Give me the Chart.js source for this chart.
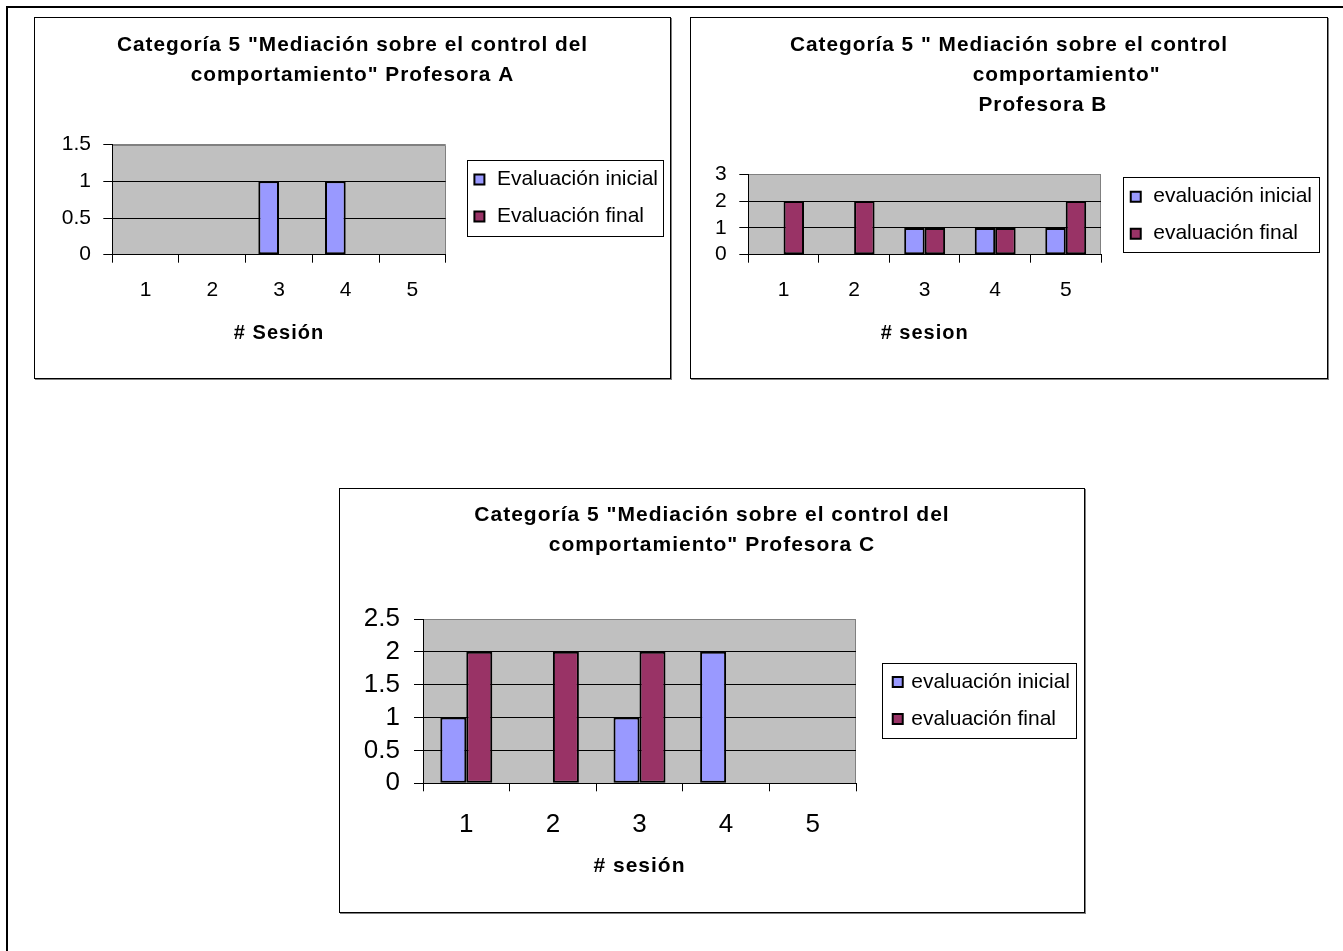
<!DOCTYPE html>
<html lang="es">
<head>
<meta charset="utf-8">
<title>Categoría 5 - Mediación sobre el control del comportamiento</title>
<script src="https://cdn.jsdelivr.net/npm/chart.js@4.4.1/dist/chart.umd.min.js"></script>
<style>
html,body{margin:0;padding:0;background:#fff;}
body{width:1343px;height:951px;position:relative;overflow:hidden;}
.frame-top{position:absolute;left:6px;top:6px;width:1337px;height:2px;background:#000;}
.frame-left{position:absolute;left:6px;top:6px;width:2px;height:945px;background:#000;}
.box{position:absolute;border:1px solid #000;box-shadow:1px 1px 0 #808080;background:#fff;}
.box canvas{display:block;}
#boxA{left:34px;top:17px;}
#boxB{left:690px;top:17px;}
#boxC{left:339px;top:488px;}
</style>
</head>
<body>
<div class="frame-top"></div>
<div class="frame-left"></div>
<div class="box" id="boxA"><canvas id="chartA" width="635" height="360"></canvas></div>
<div class="box" id="boxB"><canvas id="chartB" width="636" height="360"></canvas></div>
<div class="box" id="boxC"><canvas id="chartC" width="744" height="423"></canvas></div>
<script>
// ---------- data ----------
const sessions = ['1', '2', '3', '4', '5'];

const seriesA = ['Evaluación inicial', 'Evaluación final'];
const seriesB = ['evaluación inicial', 'evaluación final'];
const seriesC = ['evaluación inicial', 'evaluación final'];

const inicialA = [0, 0, 1, 1, 0];
const finalA   = [0, 0, 0, 0, 0];

const inicialB = [0, 0, 1, 1, 1];
const finalB   = [2, 2, 1, 1, 2];

const inicialC = [1, 0, 1, 2, 0];
const finalC   = [2, 2, 2, 0, 0];

const yTicksA = [0, 0.5, 1, 1.5];
const yTickLabelsA = ['0', '0.5', '1', '1.5'];
const yTicksB = [0, 1, 2, 3];
const yTickLabelsB = ['0', '1', '2', '3'];
const yTicksC = [0, 0.5, 1, 1.5, 2, 2.5];
const yTickLabelsC = ['0', '0.5', '1', '1.5', '2', '2.5'];

const titleA = ['Categoría 5 "Mediación sobre el control del', 'comportamiento" Profesora A'];
const titleB = ['Categoría 5 " Mediación sobre el control', 'comportamiento"', 'Profesora B'];
const titleC = ['Categoría 5 "Mediación sobre el control del', 'comportamiento" Profesora C'];

const xTitleA = '# Sesión';
const xTitleB = '# sesion';
const xTitleC = '# sesión';

// ---------- styling ----------
const INICIAL_COLOR = '#9999FF';
const FINAL_COLOR = '#993366';
const PLOT_BG = '#C0C0C0';
Chart.defaults.font.family = "'Liberation Sans', Arial, Helvetica, sans-serif";
Chart.defaults.color = '#000';

// Bold texts (titles) are drawn slightly letter-spaced, like the original rendering.
(function () {
  const P = CanvasRenderingContext2D.prototype;
  const origFill = P.fillText, origMeasure = P.measureText;
  const spacing = ctx => {
    if ('letterSpacing' in ctx) ctx.letterSpacing = /bold|[6-9]00/.test(ctx.font) ? '1px' : '0px';
  };
  P.fillText = function () { spacing(this); return origFill.apply(this, arguments); };
  P.measureText = function () { spacing(this); return origMeasure.apply(this, arguments); };
})();

const nb = n => '\u00A0'.repeat(n);
const LEGEND_FS = 21;

const decor = {
  id: 'decor',
  beforeDraw(chart) {
    const ctx = chart.ctx;
    const a = chart.chartArea;
    ctx.save();
    ctx.fillStyle = PLOT_BG;
    ctx.fillRect(a.left, a.top, a.right - a.left, a.bottom - a.top);
    ctx.strokeStyle = '#808080';
    ctx.lineWidth = 1;
    const t = Math.round(a.top) + 0.5, r = Math.round(a.right) - 0.5;
    ctx.beginPath();
    ctx.moveTo(a.left, t);
    ctx.lineTo(r, t);
    ctx.lineTo(r, a.bottom);
    ctx.stroke();
    ctx.restore();
  },
  afterDraw(chart, args, o) {
    const lg = chart.legend;
    if (!lg || !lg.legendHitBoxes || !lg.legendHitBoxes.length || !o.frame) return;
    const hb = lg.legendHitBoxes;
    const f = o.frame;
    const sq = hb[0].left + (o.boxW - 10) / 2;
    const textRight = Math.max(...hb.map(h => h.left + h.width));
    const c1 = hb[0].top + o.fs / 2;
    const c2 = hb[hb.length - 1].top + o.fs / 2;
    const x0 = Math.round(sq - f.l) + 0.5, x1 = Math.round(textRight + f.r) + 0.5;
    const y0 = Math.round(c1 - f.t) + 0.5, y1 = Math.round(c2 + f.b) + 0.5;
    const ctx = chart.ctx;
    ctx.save();
    ctx.strokeStyle = '#000';
    ctx.lineWidth = 1;
    ctx.strokeRect(x0, y0, x1 - x0, y1 - y0);
    ctx.restore();
  }
};

function buildChart(id, p) {
  const ymax = p.yTicks[p.yTicks.length - 1];
  return new Chart(document.getElementById(id), {
    type: 'bar',
    data: {
      labels: sessions,
      datasets: [
        { label: p.series[0], data: p.inicial, backgroundColor: INICIAL_COLOR, borderColor: '#000',
          borderWidth: 2, borderSkipped: false, categoryPercentage: p.catPct, barPercentage: 1 },
        { label: p.series[1], data: p.final, backgroundColor: FINAL_COLOR, borderColor: '#000',
          borderWidth: 2, borderSkipped: false, categoryPercentage: p.catPct, barPercentage: 1 }
      ]
    },
    options: {
      responsive: false,
      maintainAspectRatio: false,
      animation: false,
      events: [],
      layout: { padding: p.layoutPad },
      plugins: {
        tooltip: { enabled: false },
        title: {
          display: true, text: p.title, color: '#000',
          font: { size: p.titleSize, weight: 'bold', lineHeight: 30 / p.titleSize },
          padding: { top: p.titleTop, bottom: p.titleBottom }
        },
        legend: {
          display: true, position: 'right', fullSize: true, align: 'center', maxWidth: 400,
          labels: { color: '#000', font: { size: LEGEND_FS }, boxWidth: p.boxW, boxHeight: 10, padding: 16,
                    usePointStyle: true, pointStyle: 'rect' }
        },
        decor: { frame: p.frame, boxW: p.boxW, fs: LEGEND_FS }
      },
      scales: {
        x: {
          type: 'category',
          grid: { display: true, drawOnChartArea: false, drawTicks: true, tickLength: 8,
                  color: '#000', tickColor: '#000', offset: true },
          border: { display: true, color: '#000', width: 1 },
          ticks: { font: { size: p.tickSize }, padding: p.xTickPad, maxRotation: 0, autoSkip: false, color: '#000' },
          title: { display: true, text: p.xTitle, color: '#000',
                   font: { size: p.xTitleSize, weight: 'bold' }, padding: { top: 0, bottom: p.xTitleBottom } },
          afterFit: s => { s.height = p.xHeight; }
        },
        y: {
          type: 'linear',
          min: p.yTicks[0], max: ymax,
          afterBuildTicks: s => { s.ticks = p.yTicks.map(v => ({ value: v })); },
          grid: { display: true, drawOnChartArea: true, drawTicks: true, tickLength: p.yTickLen,
                  color: c => (c.tick && c.tick.value === ymax) ? '#808080' : '#000',
                  tickColor: '#000', lineWidth: 1 },
          border: { display: true, color: '#000', width: 1 },
          ticks: { font: { size: p.tickSize }, padding: p.yTickPad, color: '#000', autoSkip: false,
                   callback: (v, i) => p.yLabels[i] },
          afterFit: s => { s.width = p.yWidth; }
        },
        gap: {
          type: 'linear', position: 'right', display: true,
          grid: { display: false, drawTicks: false }, border: { display: false },
          ticks: { display: false }, title: { display: false },
          afterFit: s => {
            const lw = s.chart.legend ? s.chart.legend.width : 0;
            s.width = Math.max(0, s.chart.width - p.layoutPad.right - lw - p.plotRight);
          }
        }
      }
    },
    plugins: [decor]
  });
}

buildChart('chartA', {
  series: seriesA, inicial: inicialA, final: finalA,
  yTicks: yTicksA, yLabels: yTickLabelsA,
  title: titleA, titleSize: 20.8, titleTop: 12, titleBottom: 54.6,
  layoutPad: { top: 0, left: 2, right: 2, bottom: 0 },
  yWidth: 75.3, yTickLen: 9, yTickPad: 12.3, tickSize: 21,
  xHeight: 123.3, xTickPad: 15.1, xTitle: xTitleA, xTitleSize: 20, xTitleBottom: 32.7,
  plotRight: 410.7, boxW: 14, frame: { l: 7.4, r: 4.7, t: 19.5, b: 19.5 }, catPct: 0.62
});

buildChart('chartB', {
  series: seriesB, inicial: inicialB, final: finalB,
  yTicks: yTicksB, yLabels: yTickLabelsB,
  title: [titleB[0], nb(17) + titleB[1], nb(10) + titleB[2]],
  titleSize: 20.8, titleTop: 12, titleBottom: 54.3,
  layoutPad: { top: 0, left: 5, right: 5, bottom: -34.4 },
  yWidth: 52.3, yTickLen: 9, yTickPad: 12.5, tickSize: 21,
  xHeight: 157.7, xTickPad: 14.7, xTitle: xTitleB, xTitleSize: 20, xTitleBottom: 67.1,
  plotRight: 410, boxW: 14, frame: { l: 7.4, r: 7.3, t: 20, b: 18.7 }, catPct: 0.58
});

buildChart('chartC', {
  series: seriesC, inicial: inicialC, final: finalC,
  yTicks: yTicksC, yLabels: yTickLabelsC,
  title: titleC, titleSize: 21, titleTop: 11, titleBottom: 59,
  layoutPad: { top: 0, left: 4, right: 4, bottom: 0 },
  yWidth: 79, yTickLen: 9, yTickPad: 14, tickSize: 26,
  xHeight: 128.7, xTickPad: 17.8, xTitle: xTitleC, xTitleSize: 21, xTitleBottom: 32.7,
  plotRight: 516, boxW: 6, frame: { l: 10.7, r: 6.3, t: 19.3, b: 19.3 }, catPct: 0.6
});
</script>
</body>
</html>
